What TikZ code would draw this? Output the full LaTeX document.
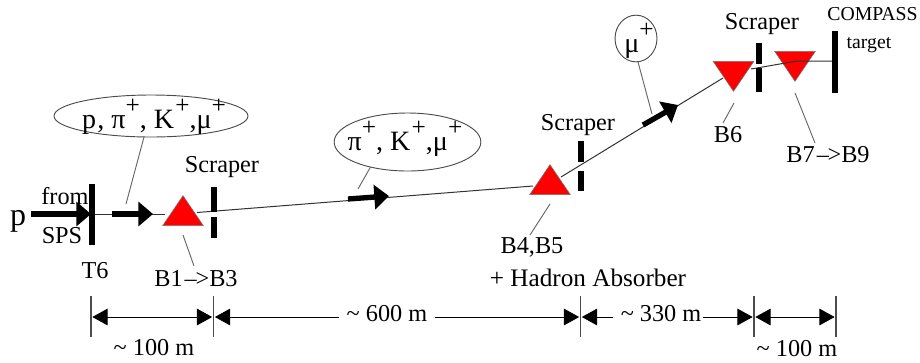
\documentclass[tikz,border=0pt]{standalone}
\usepackage{fontspec}
\setmainfont{Liberation Serif}
\usetikzlibrary{arrows.meta,shapes.geometric}
\newcommand{\supplus}{\raisebox{11pt}{\fontsize{19}{19}\selectfont +}}
\newcommand{\longto}{\kern1.5pt\textendash\kern-1pt>}
\tikzset{
  x=0.75pt,y=-0.75pt,
  lbl/.style={font=\fontsize{18.2}{20}\selectfont,inner sep=0pt},
  small/.style={font=\fontsize{14.8}{16}\selectfont,inner sep=0pt},
  bubble/.style={draw=black!70,line width=0.7pt,ellipse,inner sep=0pt},
  bubbletext/.style={font=\fontsize{21}{22}\selectfont,inner sep=0pt,anchor=base},
  bar/.style={fill=black,inner sep=0pt,minimum width=3.9pt},
  magnet/.style={isosceles triangle,isosceles triangle stretches,draw=black!55,line width=0.4pt,fill=red,
     inner sep=0pt,minimum width=30.5pt,minimum height=22.5pt,anchor=apex},
  beam/.style={draw=black!80,line width=0.75pt},
  leader/.style={draw=black!60,line width=0.7pt},
  thick arrow/.style={line width=4pt,-{Triangle[length=11pt,width=18pt]}},
  tick/.style={draw=black!70,line width=0.8pt},
  dim/.style={draw=black,line width=0.7pt,{Triangle[length=11.5pt,width=12.5pt]}-{Triangle[length=11.5pt,width=12.5pt]},shorten <=1pt,shorten >=1pt},
  gaplabel/.style={lbl,fill=white,inner sep=1pt}
}
\begin{document}
\begin{tikzpicture}
\useasboundingbox (0,0) rectangle (920,362);
% named points of the beam line
\coordinate (b0) at (92,214);
\coordinate (b1) at (165,214);
\coordinate (b2) at (197,212.5);
\coordinate (b3) at (533,186);
\coordinate (b4) at (561,177);
\coordinate (b5) at (723,78);
\coordinate (b6) at (751,69);
\coordinate (b7) at (797,61);
\coordinate (b8) at (833,61);
% magnets
\node[magnet,shape border rotate=90] (m1) at (183,195) {};
\node[magnet,shape border rotate=90] (m2) at (550,164) {};
\node[magnet,shape border rotate=-90] (m3) at (733.5,92) {};
\node[magnet,shape border rotate=-90] (m4) at (795,82) {};
% beam
\draw[beam] (b0) -- (b1);
\draw[beam] (b2) -- (b3);
\draw[beam] (b4) -- (b5);
\draw[beam] (b6) -- (b7) -- (b8);
% bars
\node[bar,minimum height=45.7pt] (t6) at (92,214.5) {};
\node[bar,minimum height=46.5pt] (tgt) at (835,62) {};
\node[bar,minimum height=18.7pt] (s1a) at (214,199.5) {};
\node[bar,minimum height=16pt] (s1b) at (214,227.5) {};
\node[bar,minimum height=16pt] (s2a) at (581,151.5) {};
\node[bar,minimum height=15pt] (s2b) at (581,181) {};
\node[bar,minimum height=16pt] (s3a) at (759,53.5) {};
\node[bar,minimum height=18pt] (s3b) at (759,80) {};
% thick arrows
\coordinate (a1s) at (31,214); \coordinate (a1e) at (91,214);
\coordinate (a2s) at (112,214); \coordinate (a2e) at (153,214);
\coordinate (a3s) at (348,199); \coordinate (a3e) at (389,196);
\coordinate (a4s) at (643,125); \coordinate (a4e) at (678,105);
\draw[thick arrow] (a1s) -- (a1e);
\draw[thick arrow] (a2s) -- (a2e);
\draw[thick arrow] (a3s) -- (a3e);
\draw[thick arrow] (a4s) -- (a4e);
% texts
\node[inner sep=0pt,font=\fontsize{24}{26}\selectfont] (p) at (18,221) {p};
\node[lbl] (from) at (65,196) {from};
\node[lbl] (sps) at (62,236) {SPS};
\node[lbl] (t6l) at (95,271) {T6};
\node[lbl] (sc1) at (222,167) {Scraper};
\node[lbl] (sc2) at (578,125) {Scraper};
\node[lbl] (sc3) at (762,24) {Scraper};
\node[small] (comp) at (872.5,14) {COMPASS};
\node[small] (targ) at (869,45) {target};
\node[lbl] (l1) at (196,279) {B1\longto B3};
\node[lbl] (l2) at (532,247) {B4,B5};
\node[lbl,font=\fontsize{18.9}{20}\selectfont] (l2b) at (588,278) {+ Hadron Absorber};
\node[lbl] (l3) at (728,135) {B6};
\node[lbl] (l4) at (828,155) {B7\longto B9};
% bubbles
\node[bubble,minimum width=145.5pt,minimum height=31.5pt] (e1) at (151,116) {};
\node[bubbletext] (e1t) at (154,128) {p\kern1pt, π\supplus, K\kern1pt\supplus,μ\supplus};
\node[bubble,minimum width=110pt,minimum height=43.5pt] (e2) at (407.5,142) {};
\node[bubbletext] (e2t) at (405,150) {π\supplus, K\kern1pt\supplus,μ\supplus};
\node[bubble,minimum width=31.5pt,minimum height=35pt] (e3) at (636,38.5) {};
\node[bubbletext] (e3t) at (639,52) {μ\supplus};
% leaders
\coordinate (q1) at (126,204);
\coordinate (q2) at (358,189);
\coordinate (q3) at (652,114);
\draw[leader] (e1) ++(-7,21) -- (q1);
\draw[leader] (e2) ++(-37,25) -- (q2);
\draw[leader] (e3) ++(2,23.5) -- (q3);
\coordinate (r1) at (183,235); \coordinate (r1e) at (194,266);
\coordinate (r2) at (550,204); \coordinate (r2e) at (530,235);
\coordinate (r3) at (734,103); \coordinate (r3e) at (723,123);
\coordinate (r4) at (795,93);  \coordinate (r4e) at (815,143);
\draw[leader] (r1) -- (r1e);
\draw[leader] (r2) -- (r2e);
\draw[leader] (r3) -- (r3e);
\draw[leader] (r4) -- (r4e);
% dimensions
\coordinate (d0) at (91,317); \coordinate (d1) at (213.5,317);
\coordinate (d2) at (580.5,317); \coordinate (d3) at (754,317); \coordinate (d4) at (836,317);
\foreach \c in {d0,d1,d2,d3,d4}
  \draw[tick] (\c) ++(0,-21) -- ++(0,41);
\draw[dim] (d0) -- (d1);
\draw[dim] (d1) -- (d2);
\draw[dim] (d2) -- (d3);
\draw[dim] (d3) -- (d4);
\node[gaplabel] (w2) at (387,316) {\strut\ \textasciitilde\ 600 m\ \ };
\node[gaplabel] (w3) at (658,316) {\strut\ \textasciitilde\ 330 m};
\node[lbl] (w1) at (154,348) {\textasciitilde\ 100 m};
\node[lbl] (w4) at (797,349) {\textasciitilde\ 100 m};
\end{tikzpicture}
\end{document}
